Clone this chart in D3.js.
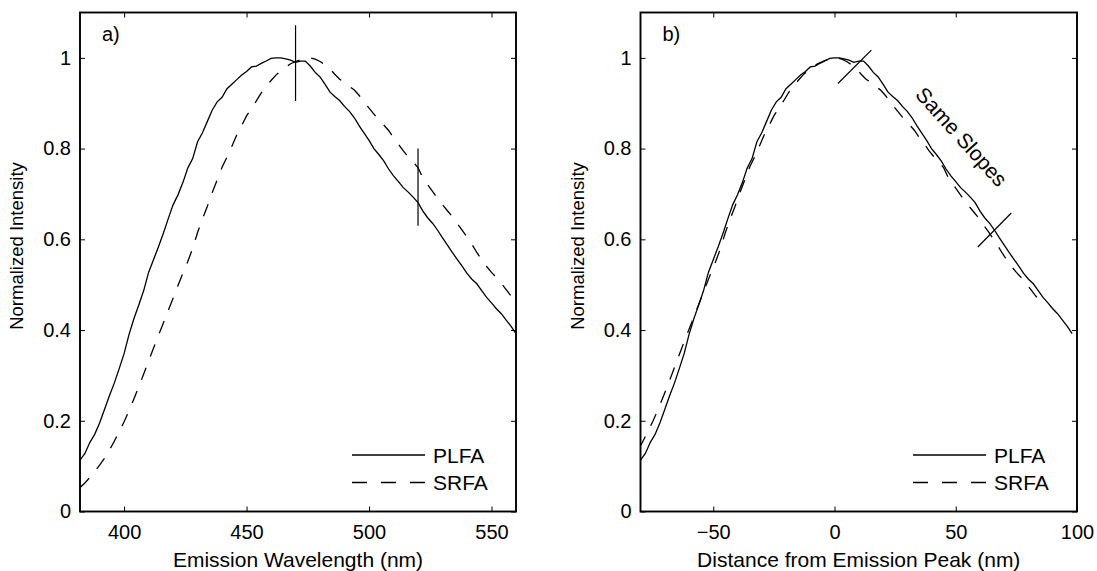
<!DOCTYPE html>
<html>
<head>
<meta charset="utf-8">
<script src="https://cdn.jsdelivr.net/npm/d3@7"></script>
<style>
  html, body { margin: 0; padding: 0; background: #fff; }
  svg { display: block; }
  text { font-family: "Liberation Sans", Arial, Helvetica, sans-serif; fill: #000; }
</style>
</head>
<body>
<svg id="chart" width="1097" height="571"></svg>
<script>
// ---------------- data ----------------
const wavelength = [382,384,386,388,390,392,394,396,398,400,402,404,406,408,410,412,414,416,418,420,
  422,424,426,428,430,432,434,436,438,440,442,444,446,448,450,452,454,456,458,460,
  462,464,466,468,470,472,474,476,478,480,482,484,486,488,490,492,494,496,498,500,
  502,504,506,508,510,512,514,516,518,520,522,524,526,528,530,532,534,536,538,540,
  542,544,546,548,550,552,554,556,558,560];
const plfa = [0.113,0.128,0.152,0.170,0.195,0.225,0.255,0.283,0.315,0.348,0.390,0.425,0.455,0.487,0.527,0.555,0.583,0.613,0.645,0.676,
  0.698,0.725,0.757,0.778,0.815,0.835,0.860,0.885,0.903,0.913,0.932,0.942,0.952,0.962,0.970,0.980,0.982,0.988,0.993,0.999,
  1.000,1.000,0.998,0.995,0.990,0.993,0.993,0.982,0.968,0.958,0.942,0.925,0.915,0.906,0.893,0.882,0.868,0.850,0.834,0.818,
  0.800,0.787,0.773,0.755,0.740,0.727,0.714,0.704,0.693,0.681,0.662,0.647,0.635,0.620,0.603,0.587,0.571,0.556,0.541,0.525,
  0.512,0.502,0.487,0.472,0.460,0.447,0.436,0.422,0.408,0.392];
const srfa = [0.053,0.063,0.075,0.088,0.102,0.117,0.135,0.155,0.176,0.198,0.222,0.248,0.275,0.303,0.332,0.360,0.388,0.415,0.443,0.470,
  0.498,0.525,0.551,0.580,0.615,0.645,0.673,0.703,0.731,0.759,0.781,0.805,0.830,0.851,0.872,0.889,0.905,0.923,0.937,0.950,
  0.962,0.972,0.980,0.987,0.992,0.996,0.999,1.000,0.997,0.992,0.985,0.976,0.964,0.953,0.946,0.937,0.929,0.917,0.903,0.889,
  0.876,0.863,0.852,0.840,0.824,0.810,0.795,0.782,0.770,0.758,0.735,0.720,0.705,0.690,0.676,0.663,0.650,0.635,0.620,0.605,
  0.589,0.571,0.555,0.540,0.527,0.516,0.503,0.489,0.475,0.462];
const peakPLFA = 462;   // emission peak (nm) used for panel b
const peakSRFA = 475;
const seriesNames = ["PLFA", "SRFA"];

const yTicks = [0, 0.2, 0.4, 0.6, 0.8, 1];
const yTickLabels = ["0", "0.2", "0.4", "0.6", "0.8", "1"];
const xTicksA = [400, 450, 500, 550];
const xTickLabelsA = ["400", "450", "500", "550"];
const xTicksB = [-50, 0, 50, 100];
const xTickLabelsB = ["\u221250", "0", "50", "100"];

// annotation marks (data coordinates)
const marksA = [[470, 0.905, 470, 1.072], [520, 0.63, 520, 0.80]];
const marksB = [[1.4, 0.9435, 15.2, 1.017], [59.1, 0.583, 72.9, 0.658]];
const slopeLabel = {text: "Same Slopes", x: 52.4, y: 0.826, angle: 48};

// ---------------- layout ----------------
const svg = d3.select("#chart");
svg.append("rect").attr("width", 1097).attr("height", 571).attr("fill", "#fff");

const plotTop = 12.5, plotBottom = 511.5;
const y = d3.scaleLinear().domain([0, 1.1]).range([plotBottom, plotTop]);

function panel(opts) {
  const {left, right, xDomain, xTicks, xLabels, xTitle, tag, seriesA, seriesB, id} = opts;
  const x = d3.scaleLinear().domain(xDomain).range([left, right]);
  const g = svg.append("g");

  g.append("clipPath").attr("id", id).append("rect")
    .attr("x", left).attr("y", plotTop).attr("width", right - left).attr("height", plotBottom - plotTop);

  const line = d3.line().x(d => x(d[0])).y(d => y(d[1]));
  const plot = g.append("g").attr("clip-path", `url(#${id})`);
  plot.append("path").datum(seriesA).attr("d", line)
    .attr("fill", "none").attr("stroke", "#000").attr("stroke-width", 1.3);
  plot.append("path").datum(seriesB).attr("d", line)
    .attr("fill", "none").attr("stroke", "#000").attr("stroke-width", 1.3)
    .attr("stroke-dasharray", "13,12");

  // axes
  const fmtX = (d, i) => xLabels[i];
  const fmtY = (d, i) => yTickLabels[i];
  const axB = g.append("g").attr("transform", `translate(0,${plotBottom})`)
    .call(d3.axisBottom(x).tickValues(xTicks).tickFormat(fmtX).tickSizeInner(-5).tickSizeOuter(0).tickPadding(13));
  const axT = g.append("g").attr("transform", `translate(0,${plotTop})`)
    .call(d3.axisTop(x).tickValues(xTicks).tickFormat("").tickSizeInner(-5).tickSizeOuter(0));
  const axL = g.append("g").attr("transform", `translate(${left},0)`)
    .call(d3.axisLeft(y).tickValues(yTicks).tickFormat(fmtY).tickSizeInner(-5).tickSizeOuter(0).tickPadding(9));
  const axR = g.append("g").attr("transform", `translate(${right},0)`)
    .call(d3.axisRight(y).tickValues(yTicks).tickFormat("").tickSizeInner(-5).tickSizeOuter(0));
  [axB, axT, axL, axR].forEach(a => {
    a.select(".domain").remove();
    a.selectAll(".tick line").attr("stroke", "#000").attr("stroke-width", 1);
    a.selectAll("text").attr("font-size", 20).attr("font-family", "Liberation Sans, Arial, sans-serif").attr("fill", "#000");
  });
  g.append("rect").attr("x", left).attr("y", plotTop).attr("width", right - left).attr("height", plotBottom - plotTop)
    .attr("fill", "none").attr("stroke", "#000").attr("stroke-width", 1.9);

  // titles
  g.append("text").attr("x", (left + right) / 2).attr("y", 567).attr("text-anchor", "middle")
    .attr("font-size", 21).text(xTitle);
  g.append("text").attr("transform", `translate(${left - 57},246) rotate(-90)`)
    .attr("text-anchor", "middle").attr("font-size", 18.5).text("Normalized Intensity");
  g.append("text").attr("x", left + 22).attr("y", 41).attr("font-size", 20).text(tag);

  // legend
  const tx = right - 83;
  const rows = [455, 482.5];
  rows.forEach((ry, i) => {
    g.append("line").attr("x1", tx - 81).attr("x2", tx - 8).attr("y1", ry).attr("y2", ry)
      .attr("stroke", "#000").attr("stroke-width", 1.3)
      .attr("stroke-dasharray", i === 1 ? "15,14" : null);
    g.append("text").attr("x", tx).attr("y", ry).attr("dy", "0.36em").attr("font-size", 21).text(seriesNames[i]);
  });
  return {g, x};
}

const serA_P = wavelength.map((w, i) => [w, plfa[i]]);
const serA_S = wavelength.map((w, i) => [w, srfa[i]]);
const serB_P = wavelength.map((w, i) => [w - peakPLFA, plfa[i]]);
const serB_S = wavelength.map((w, i) => [w - peakSRFA, srfa[i]]);

const pa = panel({left: 80, right: 516, xDomain: [382, 560], xTicks: xTicksA, xLabels: xTickLabelsA,
  xTitle: "Emission Wavelength (nm)", tag: "a)", seriesA: serA_P, seriesB: serA_S, id: "clipA"});
const pb = panel({left: 640.5, right: 1077, xDomain: [-80, 100], xTicks: xTicksB, xLabels: xTickLabelsB,
  xTitle: "Distance from Emission Peak (nm)", tag: "b)", seriesA: serB_P, seriesB: serB_S, id: "clipB"});

marksA.forEach(m => pa.g.append("line")
  .attr("x1", pa.x(m[0])).attr("y1", y(m[1])).attr("x2", pa.x(m[2])).attr("y2", y(m[3]))
  .attr("stroke", "#000").attr("stroke-width", 1.2));
marksB.forEach(m => pb.g.append("line")
  .attr("x1", pb.x(m[0])).attr("y1", y(m[1])).attr("x2", pb.x(m[2])).attr("y2", y(m[3]))
  .attr("stroke", "#000").attr("stroke-width", 1.2));
pb.g.append("text")
  .attr("transform", `translate(${pb.x(slopeLabel.x)},${y(slopeLabel.y)}) rotate(${slopeLabel.angle})`)
  .attr("text-anchor", "middle").attr("dy", "0.35em").attr("font-size", 21).text(slopeLabel.text);
</script>
</body>
</html>
